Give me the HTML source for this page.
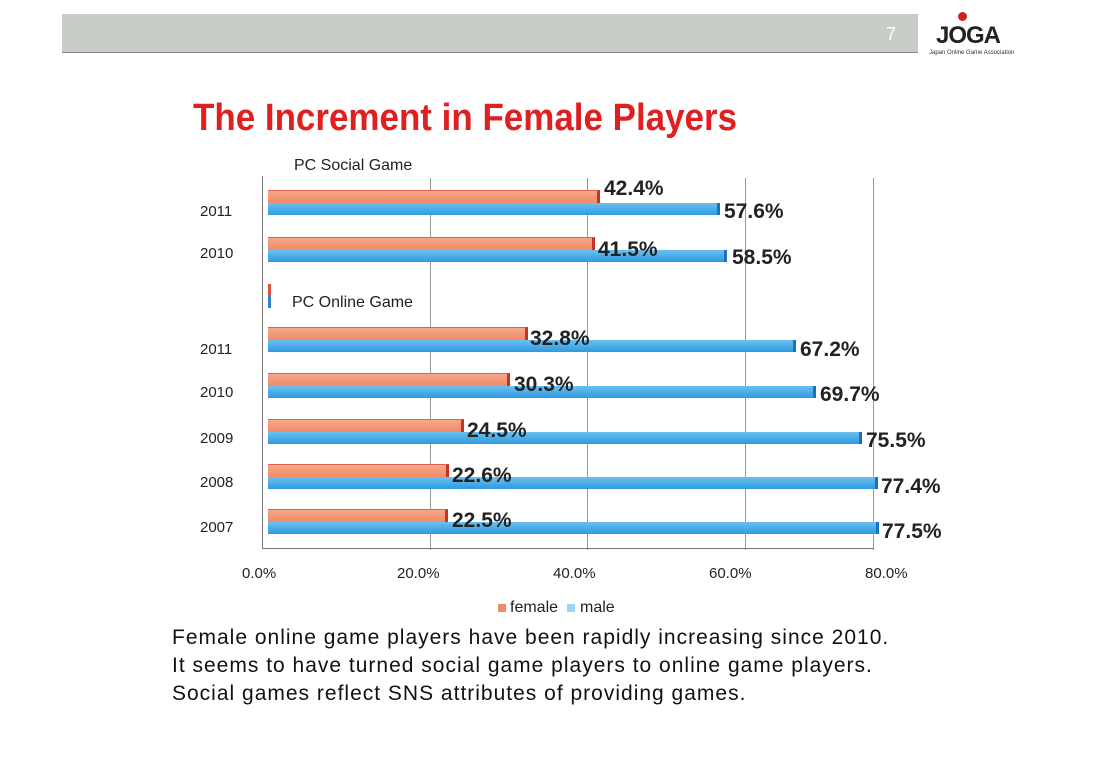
<!DOCTYPE html><html><head><style>
body{margin:0;width:1100px;height:780px;background:#fff;position:relative;overflow:hidden;font-family:"Liberation Sans",sans-serif}
.a{position:absolute}
.f{position:absolute;height:13px;background:linear-gradient(#f6a888,#f08a68);border-right:3px solid #c8302a;box-sizing:border-box;border-top:1px solid #e06050}
.m{position:absolute;height:12px;background:linear-gradient(#6cc0f0,#2e9ae0);border-right:3px solid #1c70c0;box-sizing:border-box}
.v{position:absolute;font-size:21px;color:#222;font-weight:bold}
.y{position:absolute;left:200px;font-size:15px;color:#222}
.g{position:absolute;top:178px;width:1px;height:372px;background:#999}
.t{position:absolute;top:565px;font-size:15px;color:#222}
</style></head><body>
<div class="a" style="left:62px;top:14px;width:856px;height:38px;background:#c8ccc6;border-bottom:1px solid #888"></div>
<div class="a" style="left:886px;top:24px;color:#fff;font-size:18px">7</div>
<div class="a" style="left:936px;top:22px;font-size:24px;font-weight:bold;color:#222;letter-spacing:-1px">JOGA</div>
<div class="a" style="left:929px;top:50px;font-size:6px;color:#333">Japan Online Game Association</div>
<div class="a" style="left:958px;top:12px;width:9px;height:9px;border-radius:50%;background:#d02020"></div>
<div class="a" style="left:193px;top:97px;font-size:38px;color:#e02020;font-weight:bold;transform:scaleX(0.92);transform-origin:left">The Increment in Female Players</div>
<div class="a" style="left:294px;top:157px;font-size:16px;color:#222">PC Social Game</div>
<div class="a" style="left:292px;top:294px;font-size:16px;color:#222">PC Online Game</div>
<div class="a" style="left:262px;top:176px;width:1px;height:372px;background:#777"></div>
<div class="g" style="left:430px"></div><div class="g" style="left:587px"></div><div class="g" style="left:745px"></div><div class="g" style="left:873px"></div>
<div class="a" style="left:262px;top:548px;width:612px;height:1px;background:#777"></div>
<div class="a" style="left:268px;top:284px;width:3px;height:24px;background:linear-gradient(#e05040 50%,#3080d0 50%)"></div>

<div class="f" style="left:268px;top:190px;width:332px"></div><div class="m" style="left:268px;top:203px;width:452px"></div>
<div class="v" style="left:604px;top:177px">42.4%</div><div class="v" style="left:724px;top:200px">57.6%</div><div class="y" style="top:203px">2011</div>
<div class="f" style="left:268px;top:237px;width:327px"></div><div class="m" style="left:268px;top:250px;width:459px"></div>
<div class="v" style="left:598px;top:238px">41.5%</div><div class="v" style="left:732px;top:246px">58.5%</div><div class="y" style="top:245px">2010</div>

<div class="f" style="left:268px;top:327px;width:260px"></div><div class="m" style="left:268px;top:340px;width:528px"></div>
<div class="v" style="left:530px;top:327px">32.8%</div><div class="v" style="left:800px;top:338px">67.2%</div><div class="y" style="top:341px">2011</div>
<div class="f" style="left:268px;top:373px;width:242px"></div><div class="m" style="left:268px;top:386px;width:548px"></div>
<div class="v" style="left:514px;top:373px">30.3%</div><div class="v" style="left:820px;top:383px">69.7%</div><div class="y" style="top:384px">2010</div>
<div class="f" style="left:268px;top:419px;width:196px"></div><div class="m" style="left:268px;top:432px;width:594px"></div>
<div class="v" style="left:467px;top:419px">24.5%</div><div class="v" style="left:866px;top:429px">75.5%</div><div class="y" style="top:430px">2009</div>
<div class="f" style="left:268px;top:464px;width:181px"></div><div class="m" style="left:268px;top:477px;width:610px"></div>
<div class="v" style="left:452px;top:464px">22.6%</div><div class="v" style="left:881px;top:475px">77.4%</div><div class="y" style="top:474px">2008</div>
<div class="f" style="left:268px;top:509px;width:180px"></div><div class="m" style="left:268px;top:522px;width:611px"></div>
<div class="v" style="left:452px;top:509px">22.5%</div><div class="v" style="left:882px;top:520px">77.5%</div><div class="y" style="top:519px">2007</div>

<div class="t" style="left:242px">0.0%</div><div class="t" style="left:397px">20.0%</div><div class="t" style="left:553px">40.0%</div><div class="t" style="left:709px">60.0%</div><div class="t" style="left:865px">80.0%</div>
<div class="a" style="left:498px;top:604px;width:8px;height:8px;background:#f08a68"></div>
<div class="a" style="left:510px;top:599px;font-size:16px;color:#222">female</div>
<div class="a" style="left:567px;top:604px;width:8px;height:8px;background:#9cd4f4"></div>
<div class="a" style="left:580px;top:599px;font-size:16px;color:#222">male</div>
<div class="a" style="left:172px;top:624px;font-size:21px;line-height:28px;color:#111;letter-spacing:1px">Female online game players have been rapidly increasing since 2010.<br>It seems to have turned social game players to online game players.<br>Social games reflect SNS attributes of providing games.</div>
</body></html>
